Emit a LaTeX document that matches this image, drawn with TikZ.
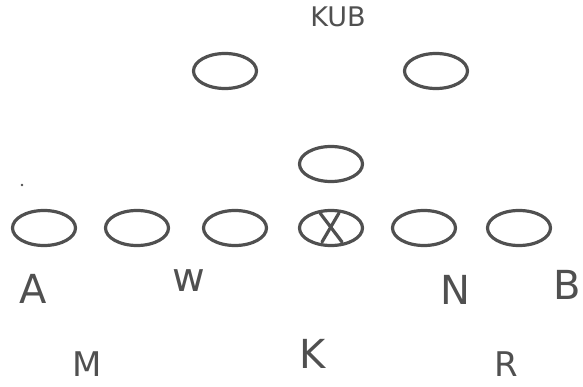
\documentclass[tikz,border=0pt]{standalone}
\usepackage{fontspec}
\setmainfont{DejaVu Sans}
\usetikzlibrary{shapes.geometric}
\definecolor{ink}{HTML}{505050}
\tikzset{
  player/.style={ellipse, draw=ink, line width=3.2pt, minimum width=63pt, minimum height=35pt, inner sep=0pt},
  lbl/.style={text=ink, inner sep=0pt, font=\fontsize{40}{40}\selectfont},
}
\begin{document}
\begin{tikzpicture}[x=1pt,y=-1pt]
\useasboundingbox (0,0) rectangle (583,387);
\node[lbl, font=\fontsize{27}{27}\selectfont] (kub) at (338,17) {KUB};
\node[player] (t1) at (225,71) {};
\node[player] (t2) at (436,71) {};
\node[player] (mid) at (331,164) {};
\node[player] (l1) at (44,228) {};
\node[player] (l2) at (137,228) {};
\node[player] (l3) at (235,228) {};
\node[player] (c) at (331,228) {};
\node[player] (l5) at (424,228) {};
\node[player] (l6) at (519,228) {};
\draw[ink, line width=3.2pt, line cap=round]
  ([shift={(-11pt,15pt)}]c.center) -- ([shift={(11pt,-14pt)}]c.center)
  ([shift={(8pt,15pt)}]c.center) -- ([shift={(-9pt,-14pt)}]c.center);
\node[lbl] (A) at (33,289) {A};
\node[lbl] (W) at (189,281) {w};
\node[lbl] (N) at (455,290) {N};
\node[lbl] (B) at (567,285) {B};
\node[lbl, font=\fontsize{34}{34}\selectfont] (M) at (87,364) {M};
\node[lbl] (K) at (313,354) {K};
\node[lbl, font=\fontsize{34}{34}\selectfont] (R) at (506,364) {R};
\fill[ink] (22,185) circle (1.3pt);
\end{tikzpicture}
\end{document}
